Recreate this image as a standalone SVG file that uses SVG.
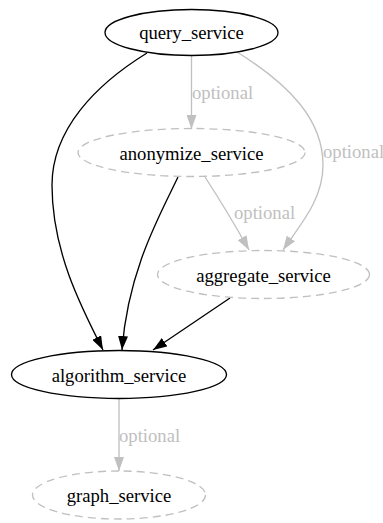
<svg xmlns="http://www.w3.org/2000/svg" width="383" height="523" viewBox="0 0 383 523">
<defs>
<style>
.nd { fill: none; stroke: #000000; stroke-width: 1.33; }
.opt { fill: none; stroke: #c0c0c0; stroke-width: 1.33; stroke-dasharray: 8,5; }
text { font-family: 'Liberation Serif', 'Times New Roman', serif; font-size: 18.67px; }
.lbl { text-anchor: middle; fill: #000000; }
.elbl { fill: #c0c0c0; }
.eb { fill: none; stroke: #000000; stroke-width: 1.33; }
.eg { fill: none; stroke: #c0c0c0; stroke-width: 1.33; }
</style>
<marker id="ab" viewBox="0 0 14 10" refX="14" refY="5" markerWidth="14" markerHeight="10" markerUnits="userSpaceOnUse" orient="auto">
<path d="M0,0 L14,5 L0,10 z" fill="#000000"/>
</marker>
<marker id="ag" viewBox="0 0 14 10" refX="14" refY="5" markerWidth="14" markerHeight="10" markerUnits="userSpaceOnUse" orient="auto">
<path d="M0,0 L14,5 L0,10 z" fill="#c0c0c0"/>
</marker>
</defs>
<rect width="383" height="523" fill="#ffffff"/>
<g id="edges">
<path class="eb" marker-end="url(#ab)" d="M147,53 C95,85 52,130 52,185 C52,250 80,305 103,350"/>
<path class="eb" marker-end="url(#ab)" d="M178,177 C160,215 128,270 122,350"/>
<path class="eb" marker-end="url(#ab)" d="M230,298 L153,350"/>
<path class="eg" marker-end="url(#ag)" d="M191.5,56 L191.5,129"/>
<text class="elbl" x="192" y="99">optional</text>
<path class="eg" marker-end="url(#ag)" d="M237,52 C290,85 323,120 323,165 C323,200 300,225 283,250"/>
<text class="elbl" x="323" y="158">optional</text>
<path class="eg" marker-end="url(#ag)" d="M205,177 C220,200 235,225 249,250"/>
<text class="elbl" x="234" y="219">optional</text>
<path class="eg" marker-end="url(#ag)" d="M119,398 L119,471"/>
<text class="elbl" x="119" y="442">optional</text>
</g>
<g id="query_service">
<ellipse class="nd" cx="191.5" cy="32.5" rx="86.5" ry="23"/>
<text class="lbl" x="191.5" y="39">query_service</text>
</g>
<g id="anonymize_service">
<ellipse class="opt" cx="191.5" cy="152.5" rx="113.5" ry="24"/>
<text class="lbl" x="191.5" y="159.5">anonymize_service</text>
</g>
<g id="aggregate_service">
<ellipse class="opt" cx="263.5" cy="274.5" rx="106" ry="24"/>
<text class="lbl" x="263.5" y="281.5">aggregate_service</text>
</g>
<g id="algorithm_service">
<ellipse class="nd" cx="119" cy="374.5" rx="107.5" ry="24"/>
<text class="lbl" x="119" y="381.5">algorithm_service</text>
</g>
<g id="graph_service">
<ellipse class="opt" cx="119" cy="495" rx="86.5" ry="24"/>
<text class="lbl" x="119" y="502">graph_service</text>
</g>
</svg>
